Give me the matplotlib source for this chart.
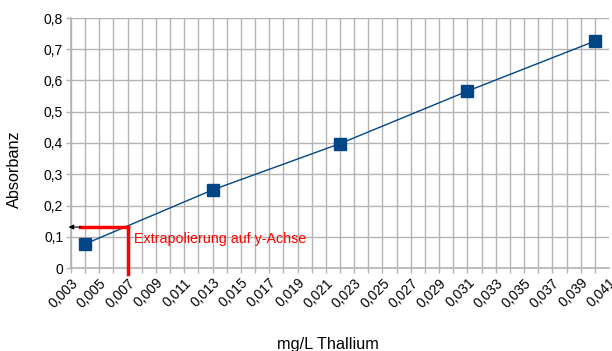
import numpy as np
import matplotlib
matplotlib.use("Agg")
import matplotlib.pyplot as plt
from matplotlib.ticker import MultipleLocator, FuncFormatter

plt.rcParams['font.family'] = ['Liberation Sans', 'DejaVu Sans']

# Kalibrierreihe Thallium
conc = [0.004, 0.013, 0.022, 0.031, 0.040]      # mg/L
absorb = [0.077, 0.250, 0.398, 0.566, 0.726]

x_read = 0.007
y_read = 0.131

blue = '#004586'
grid = '#b3b3b3'

fig = plt.figure(figsize=(6.12, 3.51), dpi=100)
ax = fig.add_axes([71/612, 1 - 268/351, 538/612, 250/351])

ax.plot(conc, absorb, color=blue, lw=1.0, zorder=3)
ax.plot(conc, absorb, ls='none', marker='s', ms=8, color=blue, zorder=4)

# Ablesehilfe: senkrecht hoch bis zur Geraden, dann waagrecht zur y-Achse
ax.plot([x_read, x_read], [-0.02, y_read], color='red', lw=2.5, zorder=5, clip_on=False)
ax.plot([0.00362, x_read], [y_read, y_read], color='red', lw=2.5, zorder=5)
ax.annotate('', xy=(0.00283, y_read), xytext=(0.0037, y_read),
            arrowprops=dict(arrowstyle='-|>', color='black', lw=0.8,
                            mutation_scale=7, shrinkA=0, shrinkB=0),
            annotation_clip=False, zorder=6)
ax.text(0.00745, 0.0816, 'Extrapolierung auf y-Achse', color='red',
        fontsize=10.3, va='baseline', ha='left')

ax.set_xlim(0.003, 0.041)
ax.set_ylim(0, 0.8)
ax.xaxis.set_major_locator(MultipleLocator(0.001))
ax.yaxis.set_major_locator(MultipleLocator(0.1))

def xfmt(v, pos):
    k = int(round(v * 1000))
    if k % 2 == 0:
        return ''
    return ('%.3f' % v).replace('.', ',')

def yfmt(v, pos):
    if abs(v) < 1e-9:
        return '0'
    return ('%.1f' % v).replace('.', ',')

ax.xaxis.set_major_formatter(FuncFormatter(xfmt))
ax.yaxis.set_major_formatter(FuncFormatter(yfmt))

ax.grid(True, color=grid, lw=1.0)
ax.set_axisbelow(True)
for s in ['top', 'right']:
    ax.spines[s].set_visible(False)
for s in ['left', 'bottom']:
    ax.spines[s].set_color(grid)
    ax.spines[s].set_linewidth(1.2)

ax.tick_params(axis='both', colors=grid, length=3.6, width=1.0, labelcolor='black',
               labelsize=10, pad=2)
plt.setp(ax.get_xticklabels(), rotation=45, ha='right', rotation_mode='anchor')

# rechter Rand: keine Gitterlinie / kein Strich bei 0,041
fig.canvas.draw()
for t in ax.xaxis.get_major_ticks():
    if abs(t.get_loc() - 0.041) < 1e-6:
        t.gridline.set_visible(False)
        t.tick1line.set_visible(False)

ax.set_xlabel('mg/L Thallium', fontsize=11.7, va='baseline')
ax.set_ylabel('Absorbanz', fontsize=11.7)
ax.xaxis.set_label_coords(0.477, -0.322)
ax.yaxis.set_label_coords(-0.092, 0.396)

fig.savefig('out.png', dpi=100)
